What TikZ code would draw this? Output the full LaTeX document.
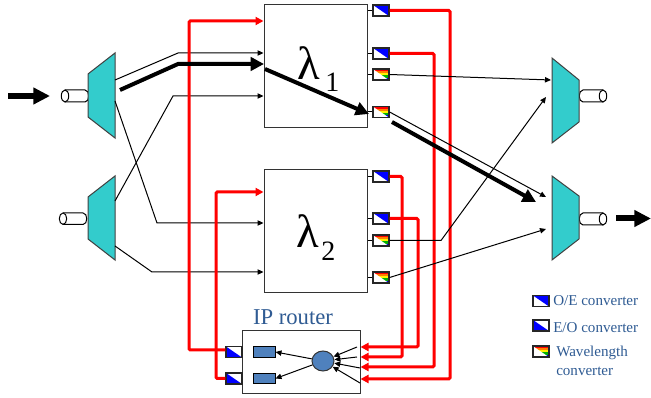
\documentclass[tikz,border=0pt]{standalone}
\usepackage{fontspec}
\setmainfont{Liberation Serif}
\usetikzlibrary{arrows.meta,shapes.geometric}
\definecolor{muxc}{HTML}{33CCCC}
\definecolor{ipblue}{HTML}{4F81BD}
\definecolor{txtblue}{HTML}{2F5B93}
\definecolor{redl}{HTML}{FF0000}
\tikzset{
  px/.style={line width=#1*0.75pt},
  thin line/.style={px=1,black},
  small tip/.style={-{Triangle[length=4.5pt,width=4pt]}},
  red line/.style={px=3,redl,rounded corners=1pt},
  red tip/.style={-{Triangle[length=6pt,width=6pt]}},
  fat line/.style={px=4,black,-{Triangle[length=10pt,width=10pt]}},
  big arrow/.style={px=6,black,-{Triangle[length=12.5pt,width=12pt]}},
  bigbox/.style={draw=black!80,px=1,fill=white,inner sep=0pt,minimum width=77.25pt,minimum height=92.25pt},
  convbase/.style={draw=black!85,px=1.2,fill=white,inner sep=0pt,minimum width=12pt,minimum height=8.25pt},
  oeconv/.style={convbase,path picture={
    \fill[blue] (path picture bounding box.north west) -- (path picture bounding box.north east) -- (path picture bounding box.south east) -- cycle;}},
  roconv/.style={convbase,path picture={
    \fill[blue] (path picture bounding box.north west) -- (path picture bounding box.south west) -- (path picture bounding box.south east) -- cycle;}},
  wlconv/.style={convbase,path picture={
    \begin{scope}
    \clip (path picture bounding box.north west) -- (path picture bounding box.north east) -- (path picture bounding box.south east) -- cycle;
    \fill[red] (path picture bounding box.north west) rectangle ([yshift=-1.6pt]path picture bounding box.north east);
    \fill[orange] ([yshift=-1.6pt]path picture bounding box.north west) rectangle ([yshift=-3.2pt]path picture bounding box.north east);
    \fill[yellow] ([yshift=-3.2pt]path picture bounding box.north west) rectangle ([yshift=-4.8pt]path picture bounding box.north east);
    \fill[green!70!black] ([yshift=-4.8pt]path picture bounding box.north west) rectangle ([yshift=-6.4pt]path picture bounding box.north east);
    \fill[blue] ([yshift=-6.4pt]path picture bounding box.north west) rectangle (path picture bounding box.south east);
    \end{scope}}},
  ipunit/.style={draw=black,px=1,fill=ipblue,inner sep=0pt,minimum width=16.5pt,minimum height=8pt},
  ipcore/.style={draw=black!80,px=1,fill=ipblue,ellipse,inner sep=0pt,minimum width=16.5pt,minimum height=15pt},
  mux/.style={draw=black!75,px=1,fill=muxc},
  fibre/.style={draw=black,px=1,fill=white},
  lab/.style={text=txtblue,font=\fontsize{11.3pt}{13pt}\selectfont,inner sep=0pt},
}
\begin{document}
\begin{tikzpicture}[x=0.75pt,y=-0.75pt]
\useasboundingbox (0,0) rectangle (651,398);
% fibres
\draw[fibre] (65,90) -- (85,90) .. controls (90,90) and (90,102) .. (85,102) -- (65,102);
\draw[fibre] (65,96) ellipse [x radius=3.7,y radius=6];
\draw[fibre] (63,213) -- (83,213) .. controls (88,213) and (88,224.5) .. (83,224.5) -- (63,224.5);
\draw[fibre] (63,218.7) ellipse [x radius=3.7,y radius=5.7];
\draw[fibre] (603,90) -- (583,90) .. controls (578,90) and (578,102) .. (583,102) -- (603,102);
\draw[fibre] (603,96) ellipse [x radius=3.7,y radius=6];
\draw[fibre] (603,213) -- (583,213) .. controls (578,213) and (578,225) .. (583,225) -- (603,225);
\draw[fibre] (603,219) ellipse [x radius=3.7,y radius=6];
% multiplexers
\draw[mux] (88,74) -- (115,53) -- (115,138) -- (88,117) -- cycle;
\draw[mux] (88,197) -- (115,176) -- (115,260) -- (88,239) -- cycle;
\draw[mux] (552,58) -- (579,80) -- (579,122) -- (552,143) -- cycle;
\draw[mux] (552,176) -- (579,196) -- (579,239) -- (552,260) -- cycle;
% wavelength boxes
\node[bigbox] (lam1) at (315.5,66.5) {};
\node[bigbox] (lam2) at (315.5,231.5) {};
\node[inner sep=0pt,anchor=base west,font=\fontsize{35pt}{35pt}\selectfont] (l1) at (297,80) {λ};
\node[inner sep=0pt,anchor=base west,font=\fontsize{21pt}{21pt}\selectfont] (l1s) at (325,92) {1};
\node[inner sep=0pt,anchor=base west,font=\fontsize{35pt}{35pt}\selectfont] (l2) at (296,248) {λ};
\node[inner sep=0pt,anchor=base west,font=\fontsize{21pt}{21pt}\selectfont] (l2s) at (321,261) {2};
% converters on the wavelength boxes
\node[oeconv] (a1) at (381,10.5) {};
\node[oeconv] (a2) at (381,53.5) {};
\node[wlconv] (a3) at (381,74.5) {};
\node[wlconv] (a4) at (381,112) {};
\node[oeconv] (b1) at (381,176.5) {};
\node[oeconv] (b2) at (381,218.5) {};
\node[wlconv] (b3) at (381,240.5) {};
\node[wlconv] (b4) at (381,277.5) {};
\foreach \c/\b in {a1/lam1,a2/lam1,a3/lam1,a4/lam1,b1/lam2,b2/lam2,b3/lam2,b4/lam2}
  \draw[thin line] (\c.west) -- (\b.east |- \c.west);
% router
\node[draw=black!80,px=1,fill=white,inner sep=0pt,minimum width=88.5pt,minimum height=47.25pt] (rt) at (301,362.5) {};
\node[text=txtblue,inner sep=0pt,font=\fontsize{17pt}{17pt}\selectfont] (rtl) at (293,317) {IP router};
\node[roconv] (r1) at (234,352) {};
\node[roconv] (r2) at (234,378.5) {};
\node[ipunit] (u1) at (264,352) {};
\node[ipunit] (u2) at (264,378.5) {};
\node[ipcore] (core) at (323,361) {};
% input connectors
\coordinate (m1a) at (115,80); \coordinate (k1a) at (178,53);
\coordinate (m1b) at (115,101); \coordinate (k1b) at (157,223);
\coordinate (m2a) at (115,201); \coordinate (k2a) at (173,96);
\coordinate (m2b) at (115,246); \coordinate (k2b) at (152,272);
\draw[thin line,small tip] (m1a) -- (k1a) -- (lam1.west |- k1a);
\draw[thin line,small tip] (m1b) -- (k1b) -- (lam2.west |- k1b);
\draw[thin line,small tip] (m2a) -- (k2a) -- (lam1.west |- k2a);
\draw[thin line,small tip] (m2b) -- (k2b) -- (lam2.west |- k2b);
% red connectors
\coordinate (rv1) at (189,350); \coordinate (rv1t) at (189,21);
\coordinate (rv2) at (216,378.5); \coordinate (rv2t) at (216,192);
\draw[red line,red tip] (r1.west |- rv1) -- (rv1) -- (rv1t) -- (lam1.west |- rv1t);
\draw[red line,red tip] (r2.west) -- (rv2 |- r2.west) -- (rv2t) -- (lam2.west |- rv2t);
\coordinate (t1) at (402,357); \coordinate (t2) at (418,347);
\coordinate (t3) at (434,367); \coordinate (t4) at (450,379);
\draw[red line,red tip] (b1.east) -- (t1 |- b1.east) -- (t1) -- (rt.east |- t1);
\draw[red line,red tip] (b2.east) -- (t2 |- b2.east) -- (t2) -- (rt.east |- t2);
\draw[red line,red tip] (a2.east) -- (t3 |- a2.east) -- (t3) -- (rt.east |- t3);
\draw[red line,red tip] (a1.east) -- (t4 |- a1.east) -- (t4) -- (rt.east |- t4);
% output connectors
\coordinate (o1) at (551,80); \coordinate (o2) at (546,197);
\coordinate (o3) at (546,97); \coordinate (o4) at (546,229);
\coordinate (kb3) at (441,240.5);
\draw[thin line,small tip] (a3.east) -- (o1);
\draw[thin line,small tip] (a4.east) -- (o2);
\draw[thin line,small tip] (b3.east) -- (kb3) -- (o3);
\draw[thin line,small tip] (b4.east) -- (o4);
% fat signal path
\coordinate (f0) at (120,90); \coordinate (f1) at (178,64); \coordinate (f2) at (264,64);
\coordinate (f3) at (265,69); \coordinate (f4) at (369,114);
\coordinate (f5) at (392,122); \coordinate (f6) at (536,202);
\draw[fat line] (f0) -- (f1) -- (f2);
\draw[fat line] (f3) -- (f4);
\draw[fat line] (f5) -- (f6);
% in and out arrows
\coordinate (in0) at (8,96); \coordinate (in1) at (50,96);
\coordinate (out0) at (616,218.5); \coordinate (out1) at (651,218.5);
\draw[big arrow] (in0) -- (in1);
\draw[big arrow] (out0) -- (out1);
% router internals
\draw[thin line,small tip] (core) -- (u1.east);
\draw[thin line,small tip] (core) -- (u2.east);
\coordinate (i1) at (357,347); \coordinate (i2) at (357,357);
\coordinate (i3) at (360,368); \coordinate (i4) at (360,383);
\foreach \i in {i1,i2,i3,i4}
  \draw[thin line,small tip] (\i) -- (core);
% legend
\node[oeconv] (k1) at (541,301) {};
\node[roconv] (k2) at (541,325.5) {};
\node[wlconv] (k3) at (541,351.5) {};
\node[lab,anchor=west] (k1t) at (553,301) {O/E converter};
\node[lab,anchor=west] (k2t) at (553,328) {E/O converter};
\node[lab,anchor=west] (k3t) at (556,353) {Wavelength};
\node[lab,anchor=west] (k3u) at (556,371) {converter};
\end{tikzpicture}
\end{document}
